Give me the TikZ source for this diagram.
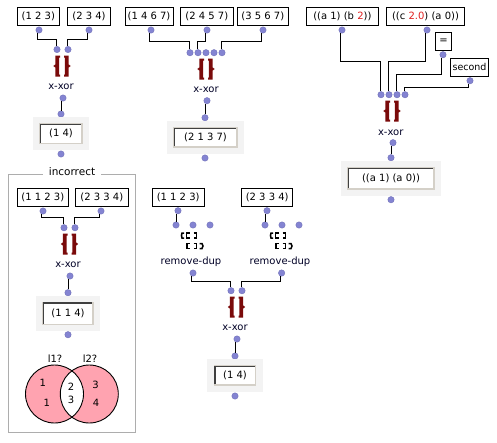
\documentclass[tikz,border=0pt]{standalone}
\usepackage{fontspec}
\setmainfont{DejaVu Sans}
\definecolor{dotc}{HTML}{8484D2}
\definecolor{dotb}{HTML}{7070B8}
\definecolor{brc}{HTML}{7A0A0A}
\definecolor{graybg}{HTML}{F3F3F3}
\definecolor{bevel}{HTML}{D4D0C8}
\definecolor{pinkv}{HTML}{FFA3B0}
\definecolor{numred}{HTML}{E02020}
\tikzset{
  x=1pt,y=-1pt,
  pdot/.style={circle,fill=dotc,draw=dotb,line width=.4pt,inner sep=0pt,minimum size=6.4pt},
  litbox/.style={draw=black,line width=1pt,fill=white,inner sep=0pt,font=\fontsize{10}{11}\selectfont},
  nlabel/.style={inner sep=0pt,font=\fontsize{10}{11}\selectfont,text=black!85!blue},
  wire/.style={draw=black,line width=.9pt},
  graybox/.style={fill=graybg,draw=none,inner sep=0pt},
  valbox/.style={fill=white,draw=bevel,line width=1.2pt,inner sep=0pt,font=\fontsize{10}{11}\selectfont},
  venn/.style={inner sep=0pt,font=\fontsize{10}{11}\selectfont},
  pics/bracesicon/.style={code={
    \fill[brc] (-6.7,-10.5) -- (-2,-10.5) -- (-2,-8.5) -- (-2.8,-8.5) -- (-2.8,8.5) -- (-2,8.5) -- (-2,10.5) -- (-6.7,10.5) -- (-6.7,1.5) -- (-8.7,0) -- (-6.7,-1.5) -- cycle;
    \fill[brc] (6.7,-10.5) -- (2,-10.5) -- (2,-8.5) -- (2.8,-8.5) -- (2.8,8.5) -- (2,8.5) -- (2,10.5) -- (6.7,10.5) -- (6.7,1.5) -- (8.7,0) -- (6.7,-1.5) -- cycle;
  }},
  pics/dupicon/.style={code={
    \begin{scope}[draw=black,line width=1.5pt,line cap=butt]
    \draw (-8.5,-8) -- (-10.5,-8) -- (-11,-5.5) -- (-10.5,-3) -- (-8.5,-3);
    \draw (-3,-8) -- (-6,-8) -- (-6,-3) -- (-3,-3);
    \draw (1,-8) -- (4,-8) -- (4,-3) -- (1,-3);
    \draw (-3,2.5) -- (-5.5,2.5) -- (-5.5,7.5) -- (-3,7.5);
    \draw (1,2.5) -- (4,2.5) -- (4,7.5) -- (1,7.5);
    \draw (7,2.5) -- (9.5,2.5) -- (10.5,5) -- (9.5,7.5) -- (7,7.5);
    \end{scope}
  }}
}
\newcommand\pdotat[3]{\node[pdot] (#1) at (#2,#3) {};}
\newcommand\lit[6]{%
  \pgfmathsetmacro\cxx{(#2+#4)/2}\pgfmathsetmacro\cyy{(#3+#5)/2}%
  \pgfmathsetmacro\www{#4-#2}\pgfmathsetmacro\hhh{#5-#3}%
  \node[litbox,minimum width=\www pt,minimum height=\hhh pt] (#1) at (\cxx,\cyy) {#6};}
\newcommand\val[6]{%
  \pgfmathsetmacro\cxx{(#2+#4)/2}\pgfmathsetmacro\cyy{(#3+#5)/2}%
  \pgfmathsetmacro\www{#4-#2}\pgfmathsetmacro\hhh{#5-#3}%
  \pgfmathsetmacro\wwi{\www-14}\pgfmathsetmacro\hhi{\hhh-13.5}%
  \node[graybox,minimum width=\www pt,minimum height=\hhh pt] (#1g) at (\cxx,\cyy) {};
  \node[valbox,minimum width=\wwi pt,minimum height=\hhi pt] (#1) at (\cxx,\cyy) {#6};
  \draw[black!75,line width=1.2pt] ([xshift=1.2pt,yshift=1.2pt]#1.south west) |- ([xshift=-1.2pt,yshift=-1.2pt]#1.north east);}
\newcommand\conn[3]{\draw[wire] ([xshift=-1.5pt]#1.south) -- ([xshift=-1.5pt]#1.south |- 0,#3) -- ([xshift=-.5pt]#2.north |- 0,#3) -- ([xshift=-.5pt]#2.north);}
\newcommand\straight[2]{\draw[wire] ([xshift=-1.5pt]#1.south) -- ([xshift=-1.5pt]#1.south |- #2.north);}
\begin{document}
\begin{tikzpicture}
\useasboundingbox[fill=white] (0,0) rectangle (497,442);
% --- first
\lit{a1}{17.3}{7.7}{59.3}{25.3}{(1 2 3)}
\lit{a2}{67.7}{7.7}{110.3}{25.3}{(2 3 4)}
\pdotat{a1o}{39}{30}\pdotat{a2o}{89}{30}
\pdotat{ai1}{57}{49.5}\pdotat{ai2}{68}{49.5}
\conn{a1o}{ai1}{39}\conn{a2o}{ai2}{39}
\pic at (62,66) {bracesicon};
\node[nlabel] (al) at (61,87) {x-xor};
\pdotat{ao}{63}{98}\pdotat{avi}{61}{114}
\straight{ao}{avi}
\val{av}{33}{117}{89}{150}{(1 4)}
\pdotat{avo}{61}{154}
% --- incorrect frame
\draw[draw=black!32,line width=.9pt] (8,174.5) rectangle (135.5,432.7);
\node[inner sep=0pt,fill=white,minimum width=58pt,minimum height=12pt,font=\fontsize{10.5}{11}\selectfont] (inc) at (72,172) {incorrect};
\lit{b1}{17.3}{188}{68.3}{206.7}{(1 1 2 3)}
\lit{b2}{75.7}{188}{128}{206.7}{(2 3 3 4)}
\pdotat{b1o}{43}{211}\pdotat{b2o}{101}{211}
\pdotat{bi1}{64}{227.7}\pdotat{bi2}{75}{227.7}
\conn{b1o}{bi1}{217.7}\conn{b2o}{bi2}{217.7}
\pic at (69.5,244) {bracesicon};
\node[nlabel] (bl) at (68,265) {x-xor};
\pdotat{bo}{70}{276}\pdotat{bvi}{68}{292.7}
\straight{bo}{bvi}
\val{bv}{36}{295.7}{100}{331}{(1 1 4)}
\pdotat{bvo}{68}{334.7}
% venn
\fill[pinkv] (54.5,394) circle (29);
\fill[pinkv] (89.3,394) circle (29);
\begin{scope}
\clip (54.5,394) circle (29);
\fill[white] (89.3,394) circle (29);
\end{scope}
\draw[black,line width=.9pt] (54.5,394) circle (29);
\draw[black,line width=.9pt] (89.3,394) circle (29);
\node[venn] (l1) at (55,359) {l1?};
\node[venn] (l2) at (90,359) {l2?};
\node[venn] (v1) at (42.7,383) {1};
\node[venn] (v2) at (46.7,402.7) {1};
\node[venn] (v3) at (71,386.7) {2};
\node[venn] (v4) at (71,400) {3};
\node[venn] (v5) at (95.5,384.7) {3};
\node[venn] (v6) at (96,402.7) {4};
% --- second
\lit{c1}{125}{7.7}{173}{25.3}{(1 4 6 7)}
\lit{c2}{180}{7.7}{233.7}{25.3}{(2 4 5 7)}
\lit{c3}{237.3}{7.7}{288.3}{25.3}{(3 5 6 7)}
\pdotat{c1o}{151}{30}\pdotat{c2o}{207}{30}\pdotat{c3o}{263}{30}
\pdotat{ci1}{190}{52.7}\pdotat{ci2}{198}{52.7}\pdotat{ci3}{206}{52.7}\pdotat{ci4}{214}{52.7}\pdotat{ci5}{222}{52.7}
\conn{c1o}{ci1}{41.3}\conn{c2o}{ci2}{41.3}\conn{c3o}{ci5}{41.3}
\pic at (206,69) {bracesicon};
\node[nlabel] (cl) at (206,90) {x-xor};
\pdotat{co}{207}{100.7}\pdotat{cvi}{205}{117.7}
\straight{co}{cvi}
\val{cv}{167}{121}{244}{153.7}{(2 1 3 7)}
\pdotat{cvo}{205}{158}
% --- remove-dup
\lit{d1}{152.3}{188.3}{204}{206.7}{(1 1 2 3)}
\lit{d2}{241.7}{188.3}{292.7}{206.7}{(2 3 3 4)}
\pdotat{d1o}{178}{210.7}\pdotat{d2o}{267}{210.7}
\pdotat{e1}{176}{225}\pdotat{e2}{193}{225}\pdotat{e3}{210}{225}
\pdotat{f1}{265}{225}\pdotat{f2}{282}{225}\pdotat{f3}{299}{225}
\straight{d1o}{e1}\straight{d2o}{f1}
\pic at (192.5,241) {dupicon};
\pic at (281.5,241) {dupicon};
\node[nlabel] (el) at (191,262) {remove-dup};
\node[nlabel] (fl) at (280,262) {remove-dup};
\pdotat{eo}{193}{273}\pdotat{fo}{281.6}{273}
\pdotat{gi1}{231}{290.7}\pdotat{gi2}{242}{290.7}
\conn{eo}{gi1}{281.7}\conn{fo}{gi2}{281.7}
\pic at (236.5,307) {bracesicon};
\node[nlabel] (gl) at (235,328) {x-xor};
\pdotat{go}{237}{339}\pdotat{gvi}{235}{356}
\straight{go}{gvi}
\val{gv}{207.3}{359.3}{262.7}{391.7}{(1 4)}
\pdotat{gvo}{235}{396}
% --- right
\lit{h1}{306}{7.7}{378.7}{25.3}{((a 1) (b \textcolor{numred}{2}))}
\lit{h2}{386.3}{7.7}{464.7}{25.3}{((c \textcolor{numred}{2.0}) (a 0))}
\lit{h3}{435.3}{32.3}{451.7}{50.3}{=}
\lit{h4}{450.3}{58.3}{488.7}{76.3}{\fontsize{9.5}{10}\selectfont second}
\pdotat{h1o}{342}{30}\pdotat{h2o}{427}{30}\pdotat{h3o}{443}{54.7}\pdotat{h4o}{470}{80.7}
\pdotat{hi1}{381}{94.7}\pdotat{hi2}{389}{94.7}\pdotat{hi3}{397}{94.7}\pdotat{hi4}{405}{94.7}
\conn{h1o}{hi1}{61.3}\conn{h2o}{hi2}{61.3}\conn{h3o}{hi3}{74.3}\conn{h4o}{hi4}{87.3}
\pic at (392,111) {bracesicon};
\node[nlabel] (hl) at (390.7,132.3) {x-xor};
\pdotat{ho}{393}{142.7}\pdotat{hvi}{391}{157.7}
\straight{ho}{hvi}
\val{hv}{341}{161}{441}{195.7}{((a 1) (a 0))}
\pdotat{hvo}{391}{199.7}
\end{tikzpicture}
\end{document}
